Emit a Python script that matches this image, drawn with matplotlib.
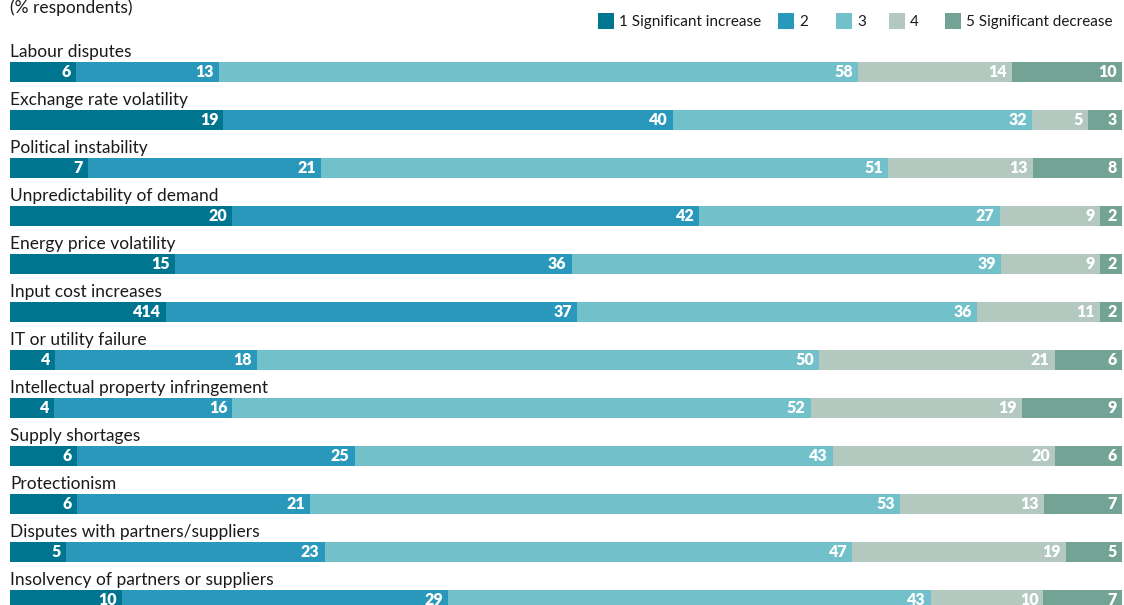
import matplotlib.pyplot as plt
from matplotlib.patches import Rectangle
import numpy as np

plt.rcParams['font.family'] = ['Lato', 'DejaVu Sans']

categories = ['Labour disputes', 'Exchange rate volatility', 'Political instability',
              'Unpredictability of demand', 'Energy price volatility', 'Input cost increases',
              'IT or utility failure', 'Intellectual property infringement', 'Supply shortages',
              'Protectionism', 'Disputes with partners/suppliers', 'Insolvency of partners or suppliers']

s1 = [6, 19, 7, 20, 15, 14, 4, 4, 6, 6, 5, 10]
s2 = [13, 40, 21, 42, 36, 37, 18, 16, 25, 21, 23, 29]
s3 = [58, 32, 51, 27, 39, 36, 50, 52, 43, 53, 47, 43]
s4 = [14, 5, 13, 9, 9, 11, 21, 19, 20, 13, 19, 10]
s5 = [10, 3, 8, 2, 2, 2, 6, 9, 6, 7, 5, 7]

series_names = ['1 Significant increase', '2', '3', '4', '5 Significant decrease']
colors = ['#00758f', '#2a98bb', '#72c0ca', '#b3c8bf', '#72a394']

# the source prints "414" on the first segment of input cost increases
label_override = {(0, 5): '414'}

W, H = 1124, 605
fig = plt.figure(figsize=(W / 100, H / 100), dpi=100)
ax = fig.add_axes([10 / W, 0, 1112 / W, 1])

data = np.array([s1, s2, s3, s4, s5], dtype=float)
totals = data.sum(axis=0)
pct = data / totals * 100
y = np.arange(len(categories))

left = np.zeros(len(categories))
for k in range(5):
    ax.barh(y, pct[k], left=left, height=0.4, color=colors[k], linewidth=0)
    for i in range(len(categories)):
        txt = label_override.get((k, i), str(int(data[k, i])))
        ax.text(left[i] + pct[k, i] - 0.45, y[i] + 0.01, txt, ha='right', va='center',
                color='white', fontsize=11.5, fontweight='heavy')
    left += pct[k]

for i, c in enumerate(categories):
    ax.text(0, y[i] - 0.25, c, ha='left', va='bottom', fontsize=12.5, color='#1a1a1a')

ax.set_xlim(0, 100)
ax.set_ylim((H - 72) / 48, -72 / 48)
ax.axis('off')

fig.text(10 / W, 1 - 13 / H, '(% respondents)', ha='left', va='baseline',
         fontsize=12.5, color='#1a1a1a')

# legend
sq_x = [598, 778, 836, 889, 945]
for k in range(5):
    fig.add_artist(Rectangle((sq_x[k] / W, 1 - 29 / H), 16 / W, 16 / H,
                             transform=fig.transFigure, color=colors[k], linewidth=0))
    fig.text((sq_x[k] + 21) / W, 1 - 22 / H, series_names[k], ha='left', va='center',
             fontsize=11, color='#1a1a1a')

fig.savefig('out.png', dpi=100)
